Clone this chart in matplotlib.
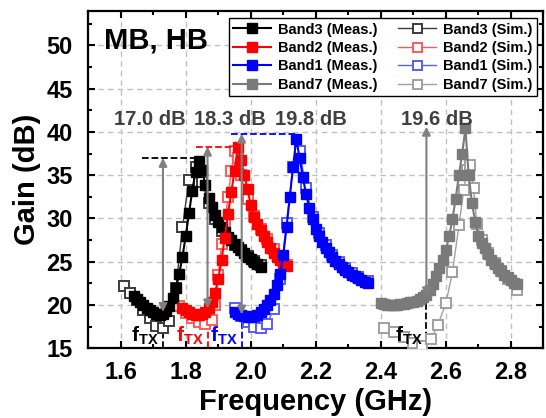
import matplotlib
matplotlib.use('Agg')
from matplotlib import pyplot as plt
from matplotlib.ticker import MultipleLocator

plt.rcParams['font.family'] = ['Liberation Sans', 'DejaVu Sans']
plt.rcParams['font.weight'] = 'bold'
plt.rcParams['mathtext.fontset'] = 'custom'
plt.rcParams['mathtext.rm'] = 'Liberation Sans:bold'
plt.rcParams['mathtext.bf'] = 'Liberation Sans:bold'

# --- measured curves (GHz, dB) ---
b3_meas_f = [1.64, 1.65, 1.66, 1.67, 1.68, 1.69, 1.70, 1.71, 1.72, 1.73, 1.74, 1.75,
             1.76, 1.77, 1.78, 1.79, 1.80, 1.81, 1.82, 1.83, 1.84, 1.85, 1.86, 1.87,
             1.88, 1.89, 1.90, 1.91, 1.92, 1.93, 1.94, 1.95, 1.96, 1.97, 1.98, 1.99,
             2.00, 2.01, 2.02, 2.03]
b3_meas_g = [21.0, 20.7, 20.3, 20.0, 19.7, 19.4, 19.2, 19.0, 18.9, 19.0, 19.3, 19.9,
             20.8, 22.0, 23.6, 25.6, 28.0, 30.6, 33.2, 35.4, 36.6, 35.6, 33.9, 32.4,
             31.3, 30.4, 29.6, 29.0, 28.4, 27.9, 27.5, 27.1, 26.7, 26.3, 26.0, 25.6,
             25.3, 25.0, 24.7, 24.4]

b2_meas_f = [1.79, 1.80, 1.81, 1.82, 1.83, 1.84, 1.85, 1.86, 1.87, 1.88, 1.89, 1.90,
             1.91, 1.92, 1.93, 1.94, 1.95, 1.96, 1.97, 1.98, 1.99, 2.00, 2.01, 2.02,
             2.03, 2.04, 2.05, 2.06, 2.07, 2.08, 2.09, 2.10, 2.11]
b2_meas_g = [19.7, 19.4, 19.2, 19.0, 18.9, 18.9, 19.0, 19.2, 19.6, 20.3, 21.4, 23.0,
             25.2, 27.8, 30.5, 33.0, 35.5, 38.2, 36.8, 35.0, 33.4, 31.5, 30.2, 29.4,
             28.7, 28.0, 27.3, 26.6, 26.0, 25.6, 25.2, 24.9, 24.5]

b1_meas_f = [1.95, 1.96, 1.97, 1.98, 1.99, 2.00, 2.01, 2.02, 2.03, 2.04, 2.05, 2.06,
             2.07, 2.08, 2.09, 2.10, 2.11, 2.12, 2.13, 2.14, 2.15, 2.16, 2.17, 2.18,
             2.19, 2.20, 2.21, 2.22, 2.23, 2.24, 2.25, 2.26, 2.27, 2.28, 2.29, 2.30,
             2.31, 2.32, 2.33, 2.34, 2.35, 2.36]
b1_meas_g = [19.2, 19.0, 18.8, 18.7, 18.6, 18.6, 18.7, 18.9, 19.2, 19.5, 20.0, 20.6,
             21.3, 22.3, 23.6, 25.8, 29.0, 32.5, 36.0, 39.2, 37.0, 34.8, 32.8, 31.2,
             29.9, 28.8, 28.0, 27.3, 26.6, 26.1, 25.6, 25.1, 24.7, 24.4, 24.1, 23.8,
             23.5, 23.3, 23.1, 22.9, 22.7, 22.6]

b7_meas_f = [2.40, 2.41, 2.42, 2.43, 2.44, 2.45, 2.46, 2.47, 2.48, 2.49, 2.50, 2.51,
             2.52, 2.53, 2.54, 2.55, 2.56, 2.57, 2.58, 2.59, 2.60, 2.61, 2.62, 2.63,
             2.64, 2.65, 2.66, 2.67, 2.68, 2.69, 2.70, 2.71, 2.72, 2.73, 2.74, 2.75,
             2.76, 2.77, 2.78, 2.79, 2.80, 2.81, 2.82]
b7_meas_g = [20.2, 20.1, 20.0, 20.0, 20.0, 20.0, 20.1, 20.1, 20.2, 20.3, 20.4, 20.5,
             20.7, 20.9, 21.2, 21.7, 22.4, 23.4, 24.3, 25.2, 26.3, 28.0, 29.9, 32.3,
             35.0, 37.5, 40.4, 35.0, 31.8, 29.6, 28.0, 27.2, 26.6, 25.9, 25.2, 24.7,
             24.3, 23.9, 23.5, 23.2, 22.9, 22.6, 22.4]

# --- simulated curves ---
b3_sim_f = [1.61, 1.63, 1.65, 1.67, 1.69, 1.71, 1.73, 1.75, 1.77, 1.79, 1.81, 1.83,
            1.85, 1.87, 1.89, 1.91, 1.93, 1.95, 1.97, 1.99, 2.01, 2.03]
b3_sim_g = [22.2, 21.4, 20.6, 19.4, 18.5, 17.6, 17.3, 18.2, 22.0, 29.0, 34.5, 36.0,
            34.2, 31.8, 29.9, 28.6, 27.6, 26.9, 26.3, 25.7, 25.1, 24.6]

b2_sim_f = [1.78, 1.80, 1.82, 1.84, 1.86, 1.88, 1.89, 1.90, 1.91, 1.92, 1.93, 1.94,
            1.95, 1.96, 1.97, 1.99, 2.01, 2.03, 2.05, 2.07, 2.09, 2.11]
b2_sim_g = [19.9, 19.1, 18.5, 18.0, 17.8, 18.3, 20.0, 23.5, 27.0, 29.5, 32.5, 35.5,
            37.8, 37.0, 35.0, 32.2, 30.3, 28.8, 27.6, 26.5, 25.5, 24.6]

b1_sim_f = [1.95, 1.97, 1.99, 2.01, 2.03, 2.05, 2.07, 2.09, 2.11, 2.13, 2.15, 2.17,
            2.19, 2.21, 2.23, 2.25, 2.27, 2.29, 2.31, 2.33, 2.36]
b1_sim_g = [19.6, 18.7, 18.0, 17.5, 17.3, 17.8, 19.5, 23.0, 29.5, 36.0, 37.8, 33.5,
            30.2, 28.3, 26.9, 25.8, 25.0, 24.3, 23.7, 23.2, 22.8]

b7_sim_f = [2.41, 2.44, 2.47, 2.50, 2.525, 2.555, 2.575, 2.60, 2.62, 2.64, 2.655, 2.665,
            2.675, 2.685, 2.695, 2.71, 2.73, 2.75, 2.77, 2.79, 2.82]
b7_sim_g = [17.3, 16.9, 16.3, 15.6, 15.3, 16.1, 17.7, 20.2, 23.8, 29.2, 33.3, 35.6,
            36.2, 33.5, 29.4, 27.5, 26.0, 24.9, 23.9, 23.0, 21.7]

# --- annotations ---
ftx = [1.73, 1.867, 1.972, 2.54]
ftx_gain = [19.2, 19.6, 18.9, 21.0]
ftx_colors = ['black', 'red', 'blue', 'black']
peak_level = [37.0, 38.3, 39.8, 40.6]
peak_line_start = [1.665, 1.83, 1.94]
peak_line_end = [1.84, 1.96, 2.14]
gain_labels = ['17.0 dB', '18.3 dB', '19.8 dB', '19.6 dB']
gain_label_x = [1.69, 1.935, 2.185, 2.572]

fig = plt.figure(figsize=(5.46, 4.18), dpi=100)
ax = fig.add_axes([0.1615, 0.1667, 0.8339, 0.8077])

meas = [(b3_meas_f, b3_meas_g, 'black', 'Band3 (Meas.)'),
        (b2_meas_f, b2_meas_g, '#ff0000', 'Band2 (Meas.)'),
        (b1_meas_f, b1_meas_g, '#0000ff', 'Band1 (Meas.)'),
        (b7_meas_f, b7_meas_g, '#7a7a7a', 'Band7 (Meas.)')]
sim = [(b3_sim_f, b3_sim_g, '#3c3c3c', 'Band3 (Sim.)'),
       (b2_sim_f, b2_sim_g, '#ff5a5a', 'Band2 (Sim.)'),
       (b1_sim_f, b1_sim_g, '#5a5aff', 'Band1 (Sim.)'),
       (b7_sim_f, b7_sim_g, '#a0a0a0', 'Band7 (Sim.)')]

handles = []
for f, g, c, lab in sim:
    h, = ax.plot(f, g, '-s', color=c, lw=1.0, ms=7.2, mfc='white', mec=c, mew=1.4,
                 label=lab, zorder=3)
    handles.append(h)
meas_handles = []
for f, g, c, lab in meas:
    h, = ax.plot(f, g, '-s', color=c, lw=1.5, ms=7.5, mec=c, label=lab, zorder=4)
    meas_handles.append(h)

# peak level dashed lines
for i in range(3):
    ax.plot([peak_line_start[i], peak_line_end[i]], [peak_level[i]] * 2, '--',
            color=ftx_colors[i], lw=1.3, zorder=5)

# fTX dashed verticals, arrows and labels
for i in range(4):
    ax.plot([ftx[i], ftx[i]], [15, ftx_gain[i] - 0.3], '--', color=ftx_colors[i],
            lw=1.3, zorder=2)
    ax.annotate('', xy=(ftx[i], peak_level[i]), xytext=(ftx[i], ftx_gain[i]),
                arrowprops=dict(arrowstyle='<|-|>', color='#808080', lw=1.5,
                                mutation_scale=12, shrinkA=0, shrinkB=0),
                zorder=6)
    ax.annotate(r'$\mathbf{f}_{\mathbf{TX}}$', xy=(ftx[i], 15.8), xytext=(-3, 0),
                textcoords='offset points', ha='right', va='baseline',
                color=ftx_colors[i], fontsize=15, zorder=7)

for x, s in zip(gain_label_x, gain_labels):
    ax.text(x, 41.4, s, ha='center', va='center', fontsize=14.5,
            fontweight='bold', color='#404040', zorder=7)

ax.text(0.035, 0.887, 'MB, HB', transform=ax.transAxes, fontsize=21,
        fontweight='bold', ha='left', va='baseline', zorder=7)

ax.set_xlim(1.5, 2.9)
ax.set_ylim(15, 54)
ax.xaxis.set_major_locator(MultipleLocator(0.2))
ax.xaxis.set_minor_locator(MultipleLocator(0.1))
ax.yaxis.set_major_locator(MultipleLocator(5))
ax.yaxis.set_minor_locator(MultipleLocator(2.5))
ax.set_xticks([1.6, 1.8, 2.0, 2.2, 2.4, 2.6, 2.8])
ax.set_xticklabels(['1.6', '1.8', '2.0', '2.2', '2.4', '2.6', '2.8'])
ax.set_yticks([15, 20, 25, 30, 35, 40, 45, 50])
ax.tick_params(which='both', direction='in', top=True, right=True, width=1.5)
ax.tick_params(which='major', length=5, labelsize=17)
ax.tick_params(axis='y', which='major', pad=11)
ax.tick_params(axis='x', which='major', pad=9)
ax.tick_params(which='minor', length=3)
for lbl in ax.get_xticklabels() + ax.get_yticklabels():
    lbl.set_fontweight('bold')
for sp in ax.spines.values():
    sp.set_linewidth(1.6)

ax.grid(True, which='major', ls=(0, (4, 3)), color='#c0c0c0', lw=1.0, zorder=0)
ax.set_axisbelow(True)

ax.set_xlabel('Frequency (GHz)', fontsize=21, fontweight='bold', labelpad=3)
ax.set_ylabel('Gain (dB)', fontsize=21, fontweight='bold', labelpad=4)

leg = ax.legend(meas_handles + handles, [h.get_label() for h in meas_handles + handles],
                ncol=2, loc='upper right', bbox_to_anchor=(0.986, 0.978),
                fontsize=10.5, frameon=True, fancybox=False, framealpha=1,
                edgecolor='black', borderpad=0.3, labelspacing=0.3,
                handlelength=2.6, handletextpad=0.5, columnspacing=1.4,
                borderaxespad=0, numpoints=1, markerscale=0.9)
leg.get_frame().set_linewidth(1.0)
leg.set_zorder(10)

fig.savefig('out.png', dpi=100)
